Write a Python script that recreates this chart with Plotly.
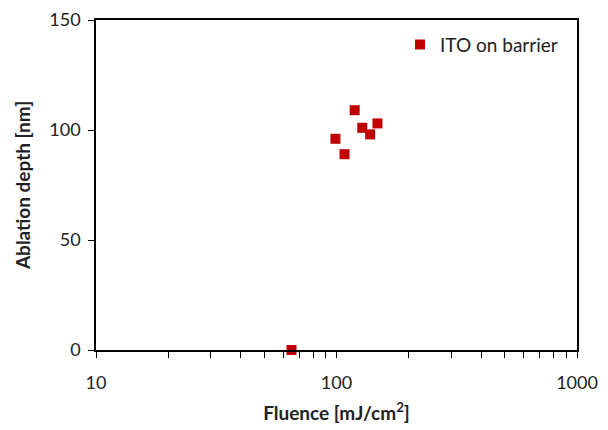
import plotly.graph_objects as go

fluence = [65, 99, 108, 119, 128, 138, 148]
depth = [0, 96, 89, 109, 101, 98, 103]
series_name = "ITO on barrier"
x_ticks = [10, 100, 1000]
y_ticks = [0, 50, 100, 150]

fig = go.Figure()
fig.add_trace(go.Scatter(
    x=fluence, y=depth, mode="markers", name=series_name,
    marker=dict(symbol="square", size=10, color="#C00000"),
    cliponaxis=False,
))

font_family = "Lato, Open Sans, sans-serif"
fig.update_layout(
    width=600, height=420,
    margin=dict(l=88, r=31, t=12, b=78, autoexpand=False),
    paper_bgcolor="white", plot_bgcolor="white",
    font=dict(family=font_family, size=18, color="#222"),
    showlegend=True,
    legend=dict(x=0.632, y=0.925, xanchor="left", yanchor="middle",
                bgcolor="rgba(0,0,0,0)", font=dict(size=19),
                itemwidth=30, tracegroupgap=0),
)
fig.update_xaxes(
    type="log", range=[1, 3],
    tickvals=x_ticks, ticktext=[str(v) for v in x_ticks],
    showgrid=False, zeroline=False,
    showline=True, linecolor="black", linewidth=1.5, mirror=True,
    ticks="outside", ticklen=6, tickcolor="black", tickwidth=1,
    minor=dict(ticks="outside", ticklen=6, tickcolor="black", tickwidth=1,
               dtick="D1", showgrid=False),
    ticklabelstandoff=10,
    title=dict(text="<b>Fluence [mJ/cm<sup>2</sup>]</b>", standoff=14, font=dict(size=19)),
)
fig.update_yaxes(
    range=[0, 150], tickvals=y_ticks,
    showgrid=False, zeroline=False,
    showline=True, linecolor="black", linewidth=1.5, mirror=True,
    ticks="outside", ticklen=6, tickcolor="black", tickwidth=1,
    ticklabelstandoff=4,
    title=dict(text="<b>Ablation depth [nm]</b>", standoff=14, font=dict(size=19)),
)

fig.write_html("out.html")
